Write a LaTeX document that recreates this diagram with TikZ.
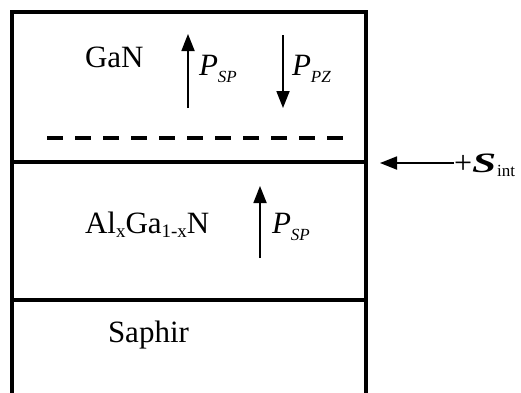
\documentclass[tikz,border=0pt]{standalone}
\usepackage{fontspec}
\usepackage{graphicx}
\setmainfont{Liberation Serif}
\usetikzlibrary{arrows.meta}
\tikzset{
  wall/.style={line width=3.5pt},
  dashline/.style={line width=3.5pt, dash pattern=on 16pt off 12pt},
  parrow/.style={line width=1.8pt, -{Triangle[length=17pt,width=13pt]}},
  lbl/.style={anchor=base west, inner sep=0pt, outer sep=0pt},
}
\newcommand{\bigf}{\fontsize{31}{31}\selectfont}
\newcommand{\subf}{\fontsize{19}{19}\selectfont}
\newcommand{\psub}{\fontsize{17}{17}\selectfont}
\begin{document}
\begin{tikzpicture}[x=1pt,y=-1pt]
\useasboundingbox (0,0) rectangle (521,392);
% box
\draw[wall] (12,400) -- (12,12) -- (366,12) -- (366,400);
\draw[wall] (12,162) -- (366,162);
\draw[wall] (12,300) -- (366,300);
\draw[dashline] (47,138) -- (345,138);
% labels
\node[lbl] (gan) at (85,67) {\bigf GaN};
\node[lbl] (algan) at (85,233) {\bigf Al\raisebox{-4pt}{\subf x}Ga\raisebox{-4pt}{\subf 1-x}N};
\node[lbl] (saphir) at (108,342) {\bigf Saphir};
\node[lbl] (psp1) at (199,75) {\bigf\itshape P\raisebox{-7pt}{\psub SP}};
\node[lbl] (ppz) at (292,75) {\bigf\itshape P\raisebox{-7pt}{\psub PZ}};
\node[lbl] (psp2) at (272,233) {\bigf\itshape P\raisebox{-7pt}{\psub SP}};
\node[lbl] (sigma) at (454,172) {\raisebox{-1pt}{\fontsize{32}{32}\selectfont +}\fontsize{28}{28}\selectfont\scalebox{1.55}[1]{\bfseries\itshape S}\hspace{1pt}\raisebox{-4pt}{\fontsize{17}{17}\selectfont int}};
% arrows
\coordinate (a1s) at (188,108); \coordinate (a1e) at (188,34);
\coordinate (a2s) at (283,35); \coordinate (a2e) at (283,108);
\coordinate (a3s) at (260,258); \coordinate (a3e) at (260,186);
\coordinate (a4e) at (380,163);
\draw[parrow] (a1s) -- (a1e);
\draw[parrow] (a2s) -- (a2e);
\draw[parrow] (a3s) -- (a3e);
\draw[parrow] (sigma.west |- a4e) -- (a4e);
\end{tikzpicture}
\end{document}
